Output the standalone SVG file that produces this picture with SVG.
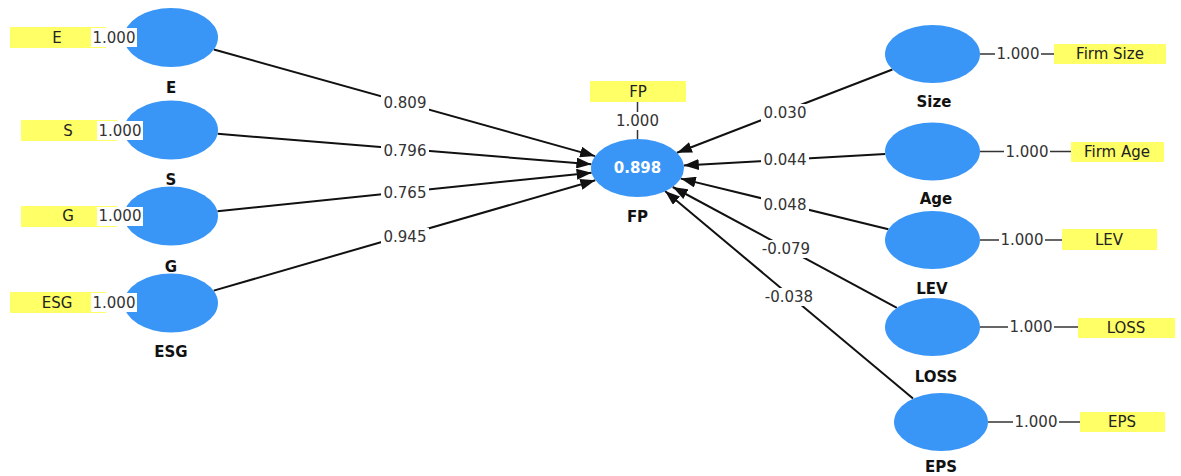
<svg xmlns="http://www.w3.org/2000/svg" width="1181" height="476" viewBox="0 0 1181 476">
<style>
.bg{fill:#ffffff}
.lv{fill:#3a96f6}
.ind{fill:#ffff66}
.path{stroke:#111111;stroke-width:2;fill:none}
.thin{stroke:#333333;stroke-width:1.5;fill:none}
.lbl{fill:#ffffff}
.t{font-family:"DejaVu Sans",sans-serif;font-size:15px;fill:#333333;text-anchor:middle;dominant-baseline:central}
.ti{font-family:"DejaVu Sans",sans-serif;font-size:15px;fill:#222222;text-anchor:middle;dominant-baseline:central}
.nm{font-family:"DejaVu Sans",sans-serif;font-size:15px;font-weight:bold;fill:#111111;text-anchor:middle;dominant-baseline:central}
.r2{font-family:"DejaVu Sans",sans-serif;font-size:15px;font-weight:bold;fill:#ffffff;text-anchor:middle;dominant-baseline:central}
</style>
<defs>
<marker id="arr" markerUnits="userSpaceOnUse" markerWidth="15" markerHeight="11" refX="15" refY="5.5" orient="auto">
<path d="M0,0 L15,5.5 L0,11 z" fill="#111111"/>
</marker>
</defs>
<rect class="bg" x="0" y="0" width="1181" height="476"/>

<g id="connectors">
<line class="path" x1="213.9" y1="49.5" x2="595.1" y2="156.1" marker-end="url(#arr)"/>
<line class="path" x1="217.6" y1="133.8" x2="591.4" y2="164.2" marker-end="url(#arr)"/>
<line class="path" x1="217.4" y1="211.2" x2="591.6" y2="172.7" marker-end="url(#arr)"/>
<line class="path" x1="213.7" y1="290.6" x2="595.3" y2="180.2" marker-end="url(#arr)"/>
<line class="path" x1="892.4" y1="69.5" x2="677.0" y2="152.7" marker-end="url(#arr)"/>
<line class="path" x1="885.2" y1="154.1" x2="683.8" y2="165.4" marker-end="url(#arr)"/>
<line class="path" x1="888.4" y1="229.2" x2="680.8" y2="178.6" marker-end="url(#arr)"/>
<line class="path" x1="896.9" y1="307.8" x2="672.7" y2="187.0" marker-end="url(#arr)"/>
<line class="path" x1="913.0" y1="398.6" x2="665.0" y2="191.0" marker-end="url(#arr)"/>

<rect class="lbl" x="381" y="94" width="48" height="18"/><text class="t" x="405" y="103">0.809</text>
<rect class="lbl" x="381" y="142" width="48" height="18"/><text class="t" x="405" y="151">0.796</text>
<rect class="lbl" x="381" y="184" width="48" height="18"/><text class="t" x="405" y="193">0.765</text>
<rect class="lbl" x="381" y="228" width="48" height="18"/><text class="t" x="405" y="237">0.945</text>
<rect class="lbl" x="761" y="104" width="48" height="18"/><text class="t" x="785" y="113">0.030</text>
<rect class="lbl" x="761" y="152" width="48" height="18"/><text class="t" x="785" y="160">0.044</text>
<rect class="lbl" x="761" y="196" width="48" height="18"/><text class="t" x="785" y="205">0.048</text>
<rect class="lbl" x="759" y="240" width="54" height="18"/><text class="t" x="786" y="249">-0.079</text>
<rect class="lbl" x="762" y="288" width="54" height="18"/><text class="t" x="789" y="297">-0.038</text>
</g>

<g id="node-E">
<rect class="ind" x="10" y="27" width="96" height="21"/>
<text class="ti" x="57" y="38">E</text>
<ellipse class="lv" cx="171" cy="37.5" rx="47" ry="29.5"/>
<rect class="lbl" x="91" y="28" width="46" height="19"/>
<text class="t" x="114" y="38">1.000</text>
<text class="nm" x="171" y="88">E</text>
</g>

<g id="node-S">
<rect class="ind" x="21" y="120" width="96" height="21"/>
<text class="ti" x="68" y="131">S</text>
<ellipse class="lv" cx="171" cy="130" rx="47" ry="29.5"/>
<rect class="lbl" x="97" y="121" width="46" height="19"/>
<text class="t" x="120" y="131">1.000</text>
<text class="nm" x="171" y="180">S</text>
</g>

<g id="node-G">
<rect class="ind" x="21" y="206" width="96" height="21"/>
<text class="ti" x="68" y="216">G</text>
<ellipse class="lv" cx="171" cy="216" rx="47" ry="29.5"/>
<rect class="lbl" x="97" y="207" width="46" height="19"/>
<text class="t" x="120" y="216">1.000</text>
<text class="nm" x="171" y="267">G</text>
</g>

<g id="node-ESG">
<rect class="ind" x="10" y="292" width="96" height="21"/>
<text class="ti" x="57" y="303">ESG</text>
<ellipse class="lv" cx="171" cy="303" rx="47" ry="29.5"/>
<rect class="lbl" x="91" y="293" width="46" height="19"/>
<text class="t" x="114" y="303">1.000</text>
<text class="nm" x="171" y="352">ESG</text>
</g>

<g id="node-FP">
<rect class="ind" x="590" y="81" width="96" height="21"/>
<text class="ti" x="638" y="92">FP</text>
<line class="thin" x1="637.5" y1="102" x2="637.5" y2="139"/>
<rect class="lbl" x="614" y="112" width="47" height="18"/>
<text class="t" x="637.5" y="121">1.000</text>
<ellipse class="lv" cx="637.5" cy="168" rx="46.5" ry="29"/>
<text class="r2" x="637.5" y="168">0.898</text>
<text class="nm" x="637.5" y="217">FP</text>
</g>

<g id="node-Size">
<line class="thin" x1="980" y1="54" x2="1054" y2="54"/>
<rect class="lbl" x="995" y="45" width="46" height="18"/>
<text class="t" x="1018" y="54">1.000</text>
<rect class="ind" x="1054" y="44" width="112" height="20"/>
<text class="ti" x="1110" y="54">Firm Size</text>
<ellipse class="lv" cx="932.5" cy="54" rx="47.5" ry="29"/>
<text class="nm" x="934" y="102">Size</text>
</g>

<g id="node-Age">
<line class="thin" x1="980" y1="151.5" x2="1071" y2="151.5"/>
<rect class="lbl" x="1004" y="143" width="46" height="18"/>
<text class="t" x="1027" y="152">1.000</text>
<rect class="ind" x="1071" y="142" width="93" height="20"/>
<text class="ti" x="1117" y="152">Firm Age</text>
<ellipse class="lv" cx="932.5" cy="151.5" rx="47.5" ry="29"/>
<text class="nm" x="936" y="199">Age</text>
</g>

<g id="node-LEV">
<line class="thin" x1="980" y1="240" x2="1062" y2="240"/>
<rect class="lbl" x="999" y="231" width="46" height="18"/>
<text class="t" x="1022" y="240">1.000</text>
<rect class="ind" x="1062" y="229" width="95" height="21"/>
<text class="ti" x="1109" y="240">LEV</text>
<ellipse class="lv" cx="932.5" cy="240" rx="47.5" ry="29"/>
<text class="nm" x="932" y="289">LEV</text>
</g>

<g id="node-LOSS">
<line class="thin" x1="980" y1="327" x2="1078" y2="327"/>
<rect class="lbl" x="1008" y="318" width="46" height="18"/>
<text class="t" x="1031" y="327">1.000</text>
<rect class="ind" x="1078" y="318" width="97" height="20"/>
<text class="ti" x="1126" y="328">LOSS</text>
<ellipse class="lv" cx="932.5" cy="327" rx="47.5" ry="29"/>
<text class="nm" x="936" y="377">LOSS</text>
</g>

<g id="node-EPS">
<line class="thin" x1="988" y1="422" x2="1080" y2="422"/>
<rect class="lbl" x="1013" y="413" width="46" height="18"/>
<text class="t" x="1036" y="422">1.000</text>
<rect class="ind" x="1080" y="412" width="85" height="20"/>
<text class="ti" x="1122" y="422">EPS</text>
<ellipse class="lv" cx="941" cy="422" rx="47" ry="29"/>
<text class="nm" x="941" y="467">EPS</text>
</g>
</svg>
